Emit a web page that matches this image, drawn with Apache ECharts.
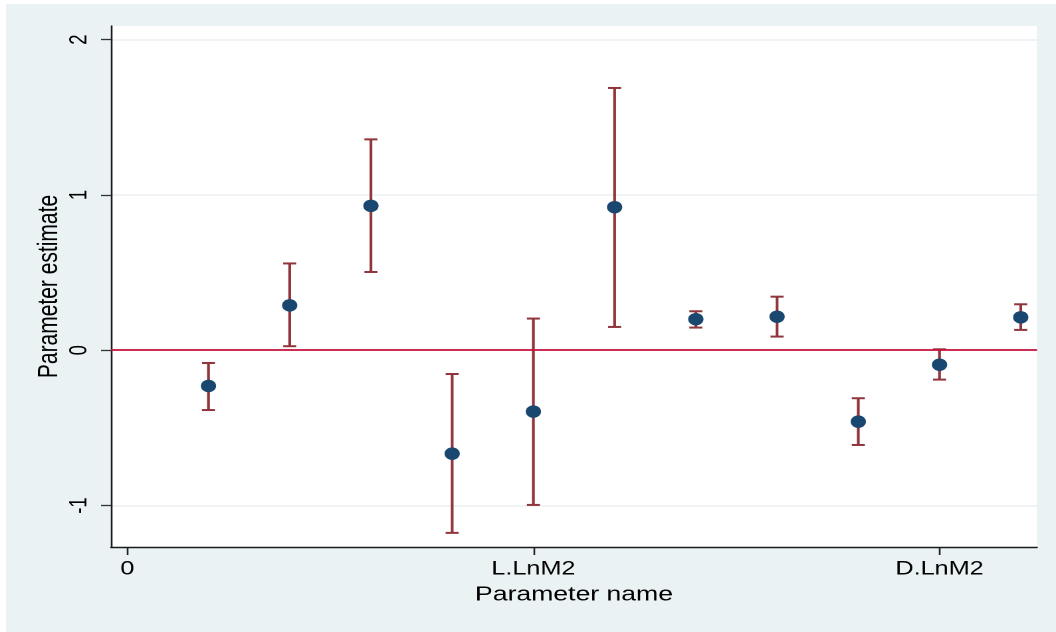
<!DOCTYPE html>
<html><head><meta charset="utf-8">
<script src="https://cdn.jsdelivr.net/npm/echarts@6/dist/echarts.min.js"></script>
<style>
html,body{margin:0;padding:0;background:#fff;width:1056px;height:632px;overflow:hidden;}
#chart{position:absolute;left:6px;top:4px;width:790px;height:628px;transform:scaleX(1.3291);transform-origin:0 0;}
</style></head><body><div id="chart"></div>
<script>
// ---- data ----
const positions = [1, 2, 3, 4, 5, 6, 7, 8, 9, 10, 11];
const estimates = [-0.230, 0.289, 0.930, -0.666, -0.395, 0.921, 0.200, 0.216, -0.460, -0.093, 0.212];
const lower     = [-0.385, 0.026, 0.504, -1.176, -0.996, 0.150, 0.146, 0.088, -0.610, -0.189, 0.131];
const upper     = [-0.082, 0.559, 1.358, -0.153, 0.204, 1.689, 0.251, 0.345, -0.309, 0.006, 0.296];
const xTickValues = [0, 5, 10];
const xTickLabels = ['0', 'L.LnM2', 'D.LnM2'];
const yTickValues = [-1, 0, 1, 2];
const yTickLabels = ['-1', '0', '1', '2'];
const referenceLine = 0;

const chart = echarts.init(document.getElementById('chart'), null, {renderer: 'canvas', devicePixelRatio: 2});
const FONT = '"Liberation Sans", Arial, sans-serif';

const option = {
  backgroundColor: '#eaf2f3',
  animation: false,
  grid: {left: 79, right: 14.3, top: 22, bottom: 85, show: true, backgroundColor: '#ffffff', borderWidth: 0},
  xAxis: {
    type: 'value', min: -0.2, max: 11.2,
    axisLine: {show: true, onZero: false, lineStyle: {color: '#1a1a1a', width: 1.4}},
    axisTick: {show: true, customValues: xTickValues, length: 8, lineStyle: {color: '#222', width: 1.3}},
    axisLabel: {customValues: xTickValues, formatter: v => xTickLabels[xTickValues.indexOf(v)],
      color: '#000', fontSize: 19, fontFamily: FONT, margin: 13},
    splitLine: {show: false},
    name: 'Parameter name', nameLocation: 'middle', nameGap: 38, nameMoveOverlap: false,
    nameTextStyle: {color: '#000', fontSize: 20, fontFamily: FONT}
  },
  yAxis: {
    type: 'value', min: -1.267, max: 2.088,
    axisLine: {show: true, onZero: false, lineStyle: {color: '#1a1a1a', width: 1.3}},
    axisTick: {show: true, customValues: yTickValues, length: 7.5, lineStyle: {color: '#333', width: 1.3}},
    axisLabel: {customValues: yTickValues, formatter: v => yTickLabels[yTickValues.indexOf(v)],
      rotate: 90, color: '#000', fontSize: 18.5, fontFamily: FONT, margin: 14},
    splitLine: {show: true, lineStyle: {color: '#eaf0f2', width: 1.6}},
    name: 'Parameter estimate', nameLocation: 'middle', nameRotate: 90, nameGap: 36, nameMoveOverlap: false,
    nameTextStyle: {color: '#000', fontSize: 21, fontFamily: FONT}
  },
  series: [
    {
      type: 'custom',
      data: positions.map((p, i) => [p, lower[i], upper[i]]),
      encode: {x: 0, y: [1, 2]},
      z: 3,
      renderItem: function (params, api) {
        const x = api.value(0);
        const pLo = api.coord([x, api.value(1)]);
        const pHi = api.coord([x, api.value(2)]);
        const hw = 4.9;
        const col = '#90353b';
        return {type: 'group', children: [
          {type: 'line', shape: {x1: pLo[0], y1: pLo[1], x2: pHi[0], y2: pHi[1]}, style: {stroke: col, lineWidth: 2.1}},
          {type: 'line', shape: {x1: pLo[0] - hw, y1: pLo[1], x2: pLo[0] + hw, y2: pLo[1]}, style: {stroke: col, lineWidth: 2}},
          {type: 'line', shape: {x1: pHi[0] - hw, y1: pHi[1], x2: pHi[0] + hw, y2: pHi[1]}, style: {stroke: col, lineWidth: 2}}
        ]};
      }
    },
    {
      type: 'line',
      data: [],
      z: 2,
      markLine: {
        silent: true, symbol: 'none', label: {show: false},
        lineStyle: {color: '#c8103c', width: 1.8, type: 'solid'},
        data: [{yAxis: referenceLine}]
      }
    },
    {
      type: 'scatter',
      data: positions.map((p, i) => [p, estimates[i]]),
      symbol: 'circle', symbolSize: [11.5, 12.5],
      itemStyle: {color: '#1a476f', opacity: 1},
      z: 5
    }
  ]
};
chart.setOption(option);
</script>
</body></html>
